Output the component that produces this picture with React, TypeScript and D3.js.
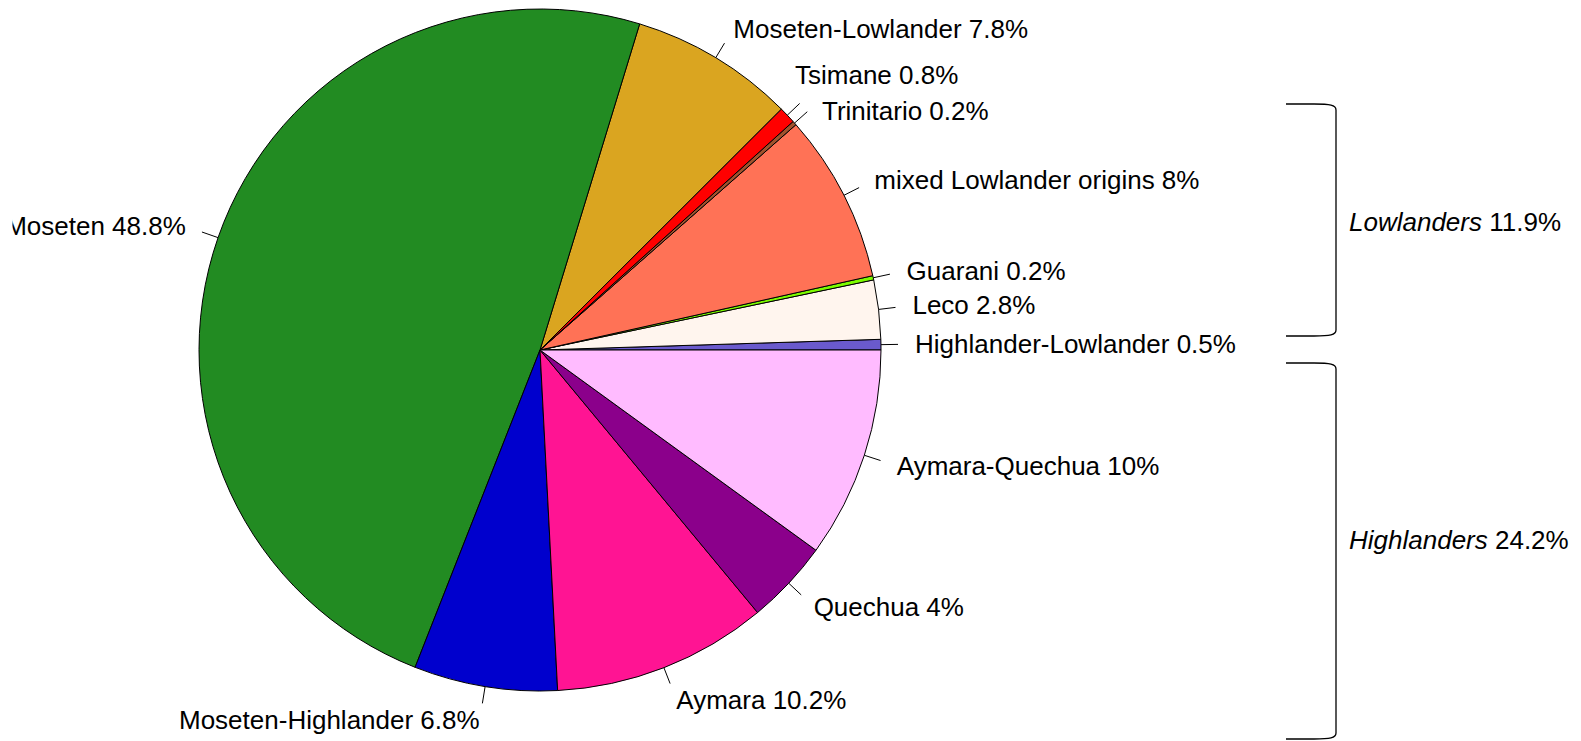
import React from 'react';
import * as d3 from 'd3';

// slices in drawing order, counterclockwise from 3 o'clock (R pie style)
const groups = [
  'Highlander-Lowlander', 'Leco', 'Guarani', 'mixed Lowlander origins', 'Trinitario',
  'Tsimane', 'Moseten-Lowlander', 'Moseten', 'Moseten-Highlander', 'Aymara',
  'Quechua', 'Aymara-Quechua',
];
const shares = [0.5, 2.8, 0.2, 8, 0.2, 0.8, 7.8, 48.8, 6.8, 10.2, 4, 10];
const colors = [
  '#6A5ACD', '#FFF5EE', '#7CFC00', '#FF7256', '#A0522D',
  '#FF0000', '#DAA520', '#228B22', '#0000CD', '#FF1493',
  '#8B008B', '#FFBBFF',
];

const bracketNames = ['Lowlanders', 'Highlanders'];
const bracketShares = ['11.9%', '24.2%'];

const W = 1581, H = 741;
const cx = 540, cy = 350, r = 341;
const fs = 26;
const font = '"Liberation Sans", Arial, Helvetica, sans-serif';

// hand nudges so the two tiny slices' labels don't collide
const nudge: Record<string, [number, number]> = {
  Tsimane: [-17, -17],
  Trinitario: [2, 11],
};

const App = () => {
  const pie = d3.pie<number>()
    .sort(null)
    .value(d => d)
    .startAngle(Math.PI / 2)
    .endAngle(Math.PI / 2 - 2 * Math.PI);
  const arcs = pie(shares);
  const arc = d3.arc<d3.PieArcDatum<number>>().innerRadius(0).outerRadius(r);

  const brackets = [
    { top: 104, bottom: 336, ty: 222 },
    { top: 363, bottom: 739, ty: 540 },
  ];
  const bx0 = 1286, bx1 = 1336;

  return (
    <svg width={W} height={H} style={{ position: 'absolute', left: 0, top: 0 }} fontFamily={font}>
      <defs>
        <clipPath id="plotclip">
          <rect x={12.5} y={0} width={W} height={H} />
        </clipPath>
      </defs>
      <rect width={W} height={H} fill="white" />
      <g transform={`translate(${cx},${cy})`}>
        {arcs.map((a, i) => (
          <path key={groups[i]} d={arc(a) || ''} fill={colors[i]} stroke="black" strokeWidth={1} />
        ))}
      </g>
      <g clipPath="url(#plotclip)">
        {arcs.map((a, i) => {
          const m = (a.startAngle + a.endAngle) / 2;
          const ux = Math.sin(m), uy = -Math.cos(m);
          const [nx, ny] = nudge[groups[i]] || [0, 0];
          const tx = cx + 1.1 * r * ux + nx, ty = cy + 1.1 * r * uy + ny;
          return (
            <g key={groups[i]}>
              <line x1={cx + r * ux} y1={cy + r * uy} x2={cx + 1.05 * r * ux} y2={cy + 1.05 * r * uy}
                stroke="black" strokeWidth={1} />
              <text x={tx} y={ty} dy="0.35em" fontSize={fs} textAnchor={ux < 0 ? 'end' : 'start'}>
                {`${groups[i]} ${shares[i]}%`}
              </text>
            </g>
          );
        })}
      </g>
      {brackets.map((b, i) => (
        <g key={bracketNames[i]}>
          <path
            d={`M${bx0},${b.top} L${bx1 - 22},${b.top} C${bx1 - 6},${b.top} ${bx1},${b.top + 1} ${bx1},${b.top + 6}
               L${bx1},${b.bottom - 6} C${bx1},${b.bottom - 1} ${bx1 - 6},${b.bottom} ${bx1 - 22},${b.bottom} L${bx0},${b.bottom}`}
            fill="none" stroke="black" strokeWidth={1.3} />
          <text x={bx1 + 13} y={b.ty} dy="0.35em" fontSize={fs}>
            <tspan fontStyle="italic">{bracketNames[i]}</tspan>
            {` ${bracketShares[i]}`}
          </text>
        </g>
      ))}
    </svg>
  );
};

export default App;
